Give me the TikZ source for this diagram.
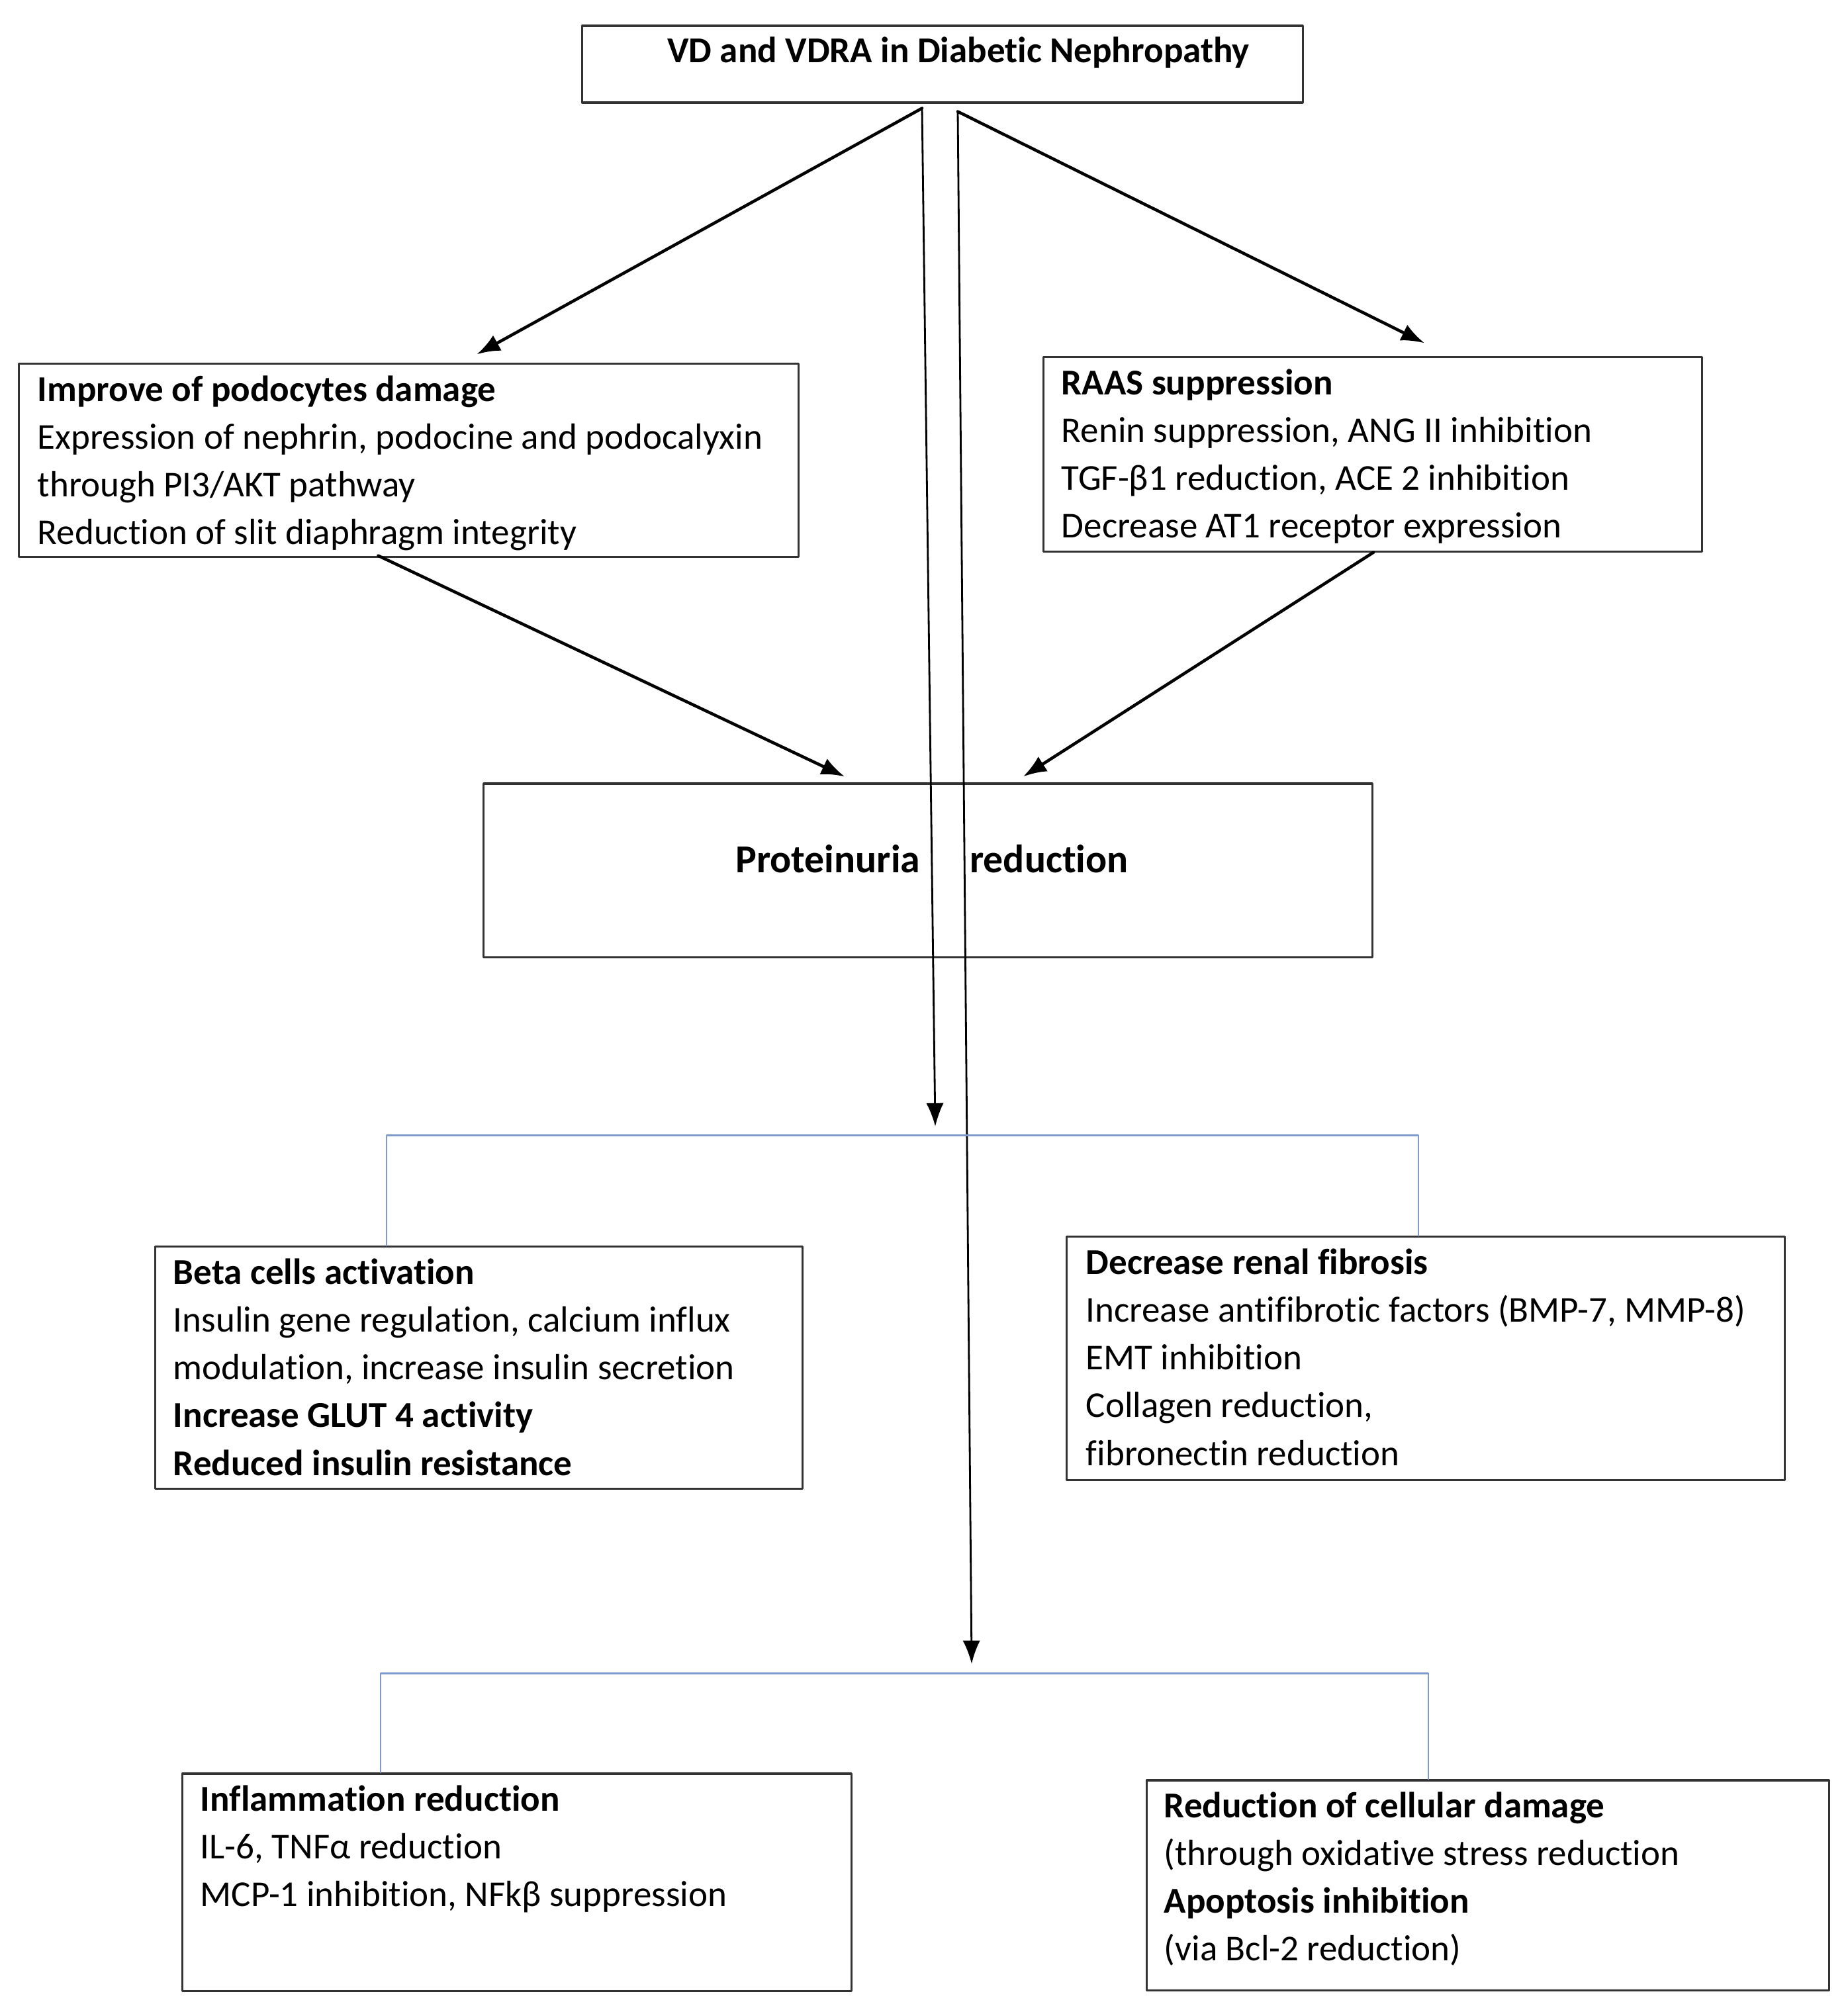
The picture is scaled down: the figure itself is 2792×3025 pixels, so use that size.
\documentclass[tikz,border=0pt]{standalone}
\usepackage{fontspec}
\setmainfont{Carlito}[Ligatures=NoCommon]
\usetikzlibrary{arrows.meta,calc}
\definecolor{linkblue}{RGB}{125,155,205}
\begin{document}
\begin{tikzpicture}[x=0.01cm, y=-0.01cm, font=\fontsize{15.65}{20.5}\selectfont,
    line join=round, line cap=round, >={Latex[length=10pt,width=7.5pt]},
    box/.style={draw=black!80, line width=0.9pt, inner sep=0pt},
    txt/.style={anchor=north west, align=left, inner sep=0pt},
    link/.style={draw=linkblue, line width=0.7pt},
    arr/.style={->, line width=1.3pt},
    thin arr/.style={->, line width=0.8pt}]
    \useasboundingbox (0,0) rectangle (2792,3025);
    % boxes
    \node[box, minimum width=10.88cm, minimum height=1.16cm] (title) at (1424,97) {};
    \node[font=\fontsize{15.65}{20.5}\selectfont\bfseries] (titletext) at (1448,80) {VD and VDRA in Diabetic Nephropathy};
    \node[box, minimum width=11.77cm, minimum height=2.91cm] (podo) at (617.5,695.5) {};
    \node[box, minimum width=9.94cm, minimum height=2.93cm] (raas) at (2074,686.5) {};
    \node[box, minimum width=13.42cm, minimum height=2.62cm] (prot) at (1402,1315) {};
    \node[font=\fontsize{17}{20.5}\selectfont\bfseries] (prottext) at (1408,1298) {Proteinuria\hspace{0.75cm}reduction};
    \node[box, minimum width=9.77cm, minimum height=3.65cm] (beta) at (723.5,2066.5) {};
    \node[box, minimum width=10.84cm, minimum height=3.67cm] (fib) at (2154,2052.5) {};
    \node[box, minimum width=10.10cm, minimum height=3.28cm] (infl) at (781,2844) {};
    \node[box, minimum width=10.30cm, minimum height=3.17cm] (cell) at (2248,2848.5) {};
    % box texts
    \node[txt] (podotext) at ([shift={(29,19)}]podo.north west) {\textbf{Improve of podocytes damage}\\
        Expression of nephrin, podocine and podocalyxin\\
        through PI3/AKT pathway\\
        Reduction of slit diaphragm integrity};
    \node[txt] (raastext) at ([shift={(28,19)}]raas.north west) {\textbf{RAAS suppression}\\
        Renin suppression, ANG II inhibition\\
        TGF-β1 reduction, ACE 2 inhibition\\
        Decrease AT1 receptor expression};
    \node[txt] (betatext) at ([shift={(28,19)}]beta.north west) {\textbf{Beta cells activation}\\
        Insulin gene regulation, calcium influx\\
        modulation, increase insulin secretion\\
        \textbf{Increase GLUT 4 activity}\\
        \textbf{Reduced insulin resistance}};
    \node[txt] (fibtext) at ([shift={(30,19)}]fib.north west) {\textbf{Decrease renal fibrosis}\\
        Increase antifibrotic factors (BMP-7, MMP-8)\\
        EMT inhibition\\
        Collagen reduction,\\
        fibronectin reduction};
    \node[txt] (infltext) at ([shift={(28,19)}]infl.north west) {\textbf{Inflammation reduction}\\
        IL-6, TNFα reduction\\
        MCP-1 inhibition, NFkβ suppression};
    \node[txt] (celltext) at ([shift={(27,19)}]cell.north west) {\textbf{Reduction of cellular damage}\\
        (through oxidative stress reduction\\
        \textbf{Apoptosis inhibition}\\
        (via Bcl-2 reduction)};
    % arrows
    \coordinate (endA) at (1413,1702);
    \coordinate (endB) at (1468,2514);
    \draw[arr] ([shift={(-31,7)}]title.south) -- ([shift={(103,-13)}]podo.north);
    \draw[arr] ([shift={(23,12)}]title.south) -- ([shift={(78,-20)}]raas.north);
    \draw[thin arr] ([shift={(-31,7)}]title.south) -- (endA);
    \draw[thin arr] ([shift={(23,12)}]title.south) -- (endB);
    \draw[arr] ([shift={(-46,-3)}]podo.south) -- ([shift={(-126,-9)}]prot.north);
    \draw[arr] ([shift={(1,0)}]raas.south) -- ([shift={(144,-9)}]prot.north);
    % brackets
    \draw[link] ([shift={(351,0)}]beta.north west) -- ++(0,-167) -| ([shift={(533,0)}]fib.north west);
    \draw[link] ([shift={(301,0)}]infl.north west) -- ++(0,-150) -| ([shift={(427,0)}]cell.north west);
\end{tikzpicture}
\end{document}
